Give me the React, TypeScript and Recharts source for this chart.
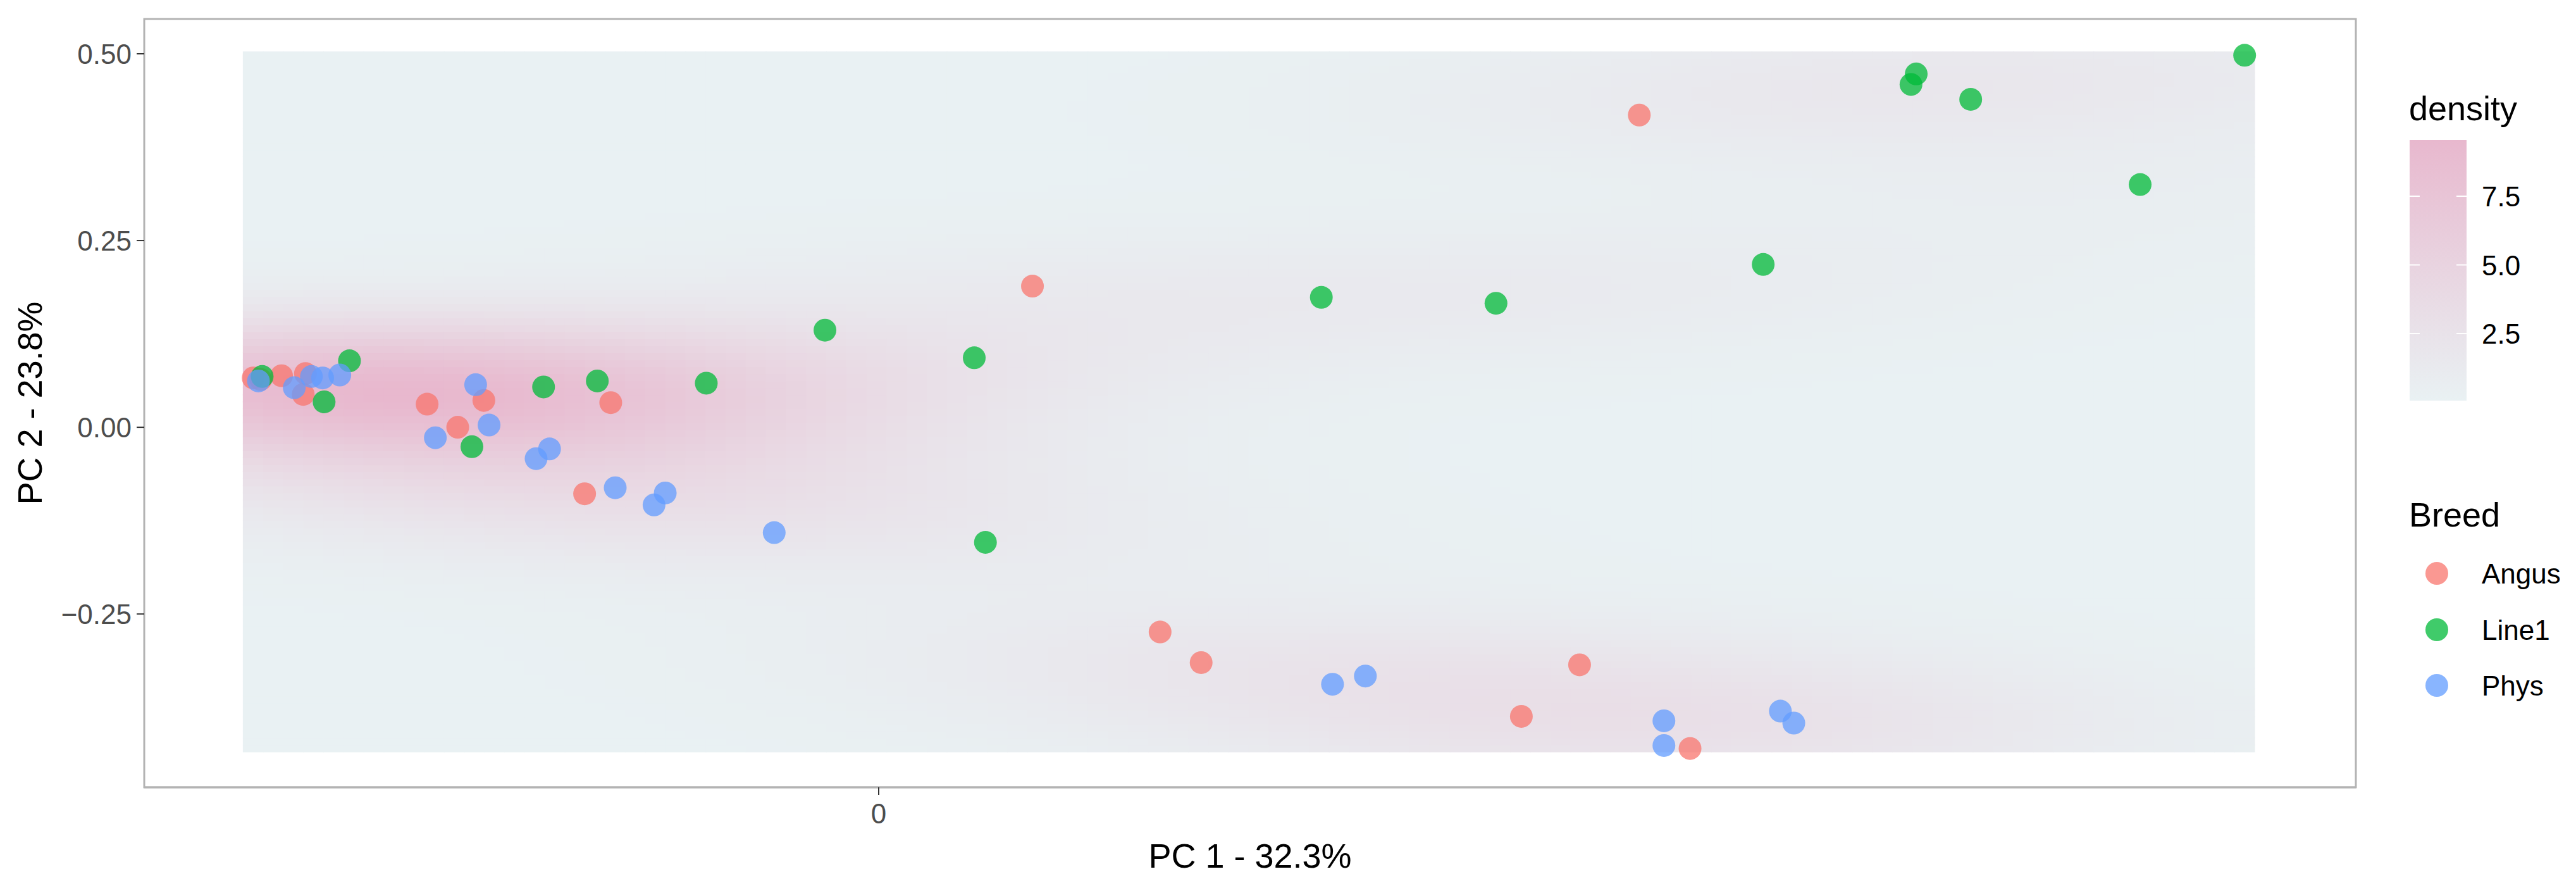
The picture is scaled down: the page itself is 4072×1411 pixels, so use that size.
import { ScatterChart, Scatter, XAxis, YAxis, ReferenceArea } from "recharts"

// PC scores, one pair of arrays per breed
const angusPC1 = [-0.838, -0.828, -0.8, -0.768, -0.771, -0.605, -0.529, -0.564, -0.359, -0.394, 0.206, 0.377, 0.432, 0.861, 0.939, 1.087, 1.019]
const angusPC2 = [0.066, 0.064, 0.069, 0.072, 0.044, 0.031, 0.036, 0.0, 0.033, -0.089, 0.189, -0.274, -0.315, -0.387, -0.318, -0.43, 0.418]

const line1PC1 = [-0.826, -0.709, -0.743, -0.545, -0.449, -0.377, -0.231, -0.072, 0.128, 0.143, 0.593, 0.827, 1.185, 1.69, 1.39, 1.383, 1.463, 1.83]
const line1PC2 = [0.068, 0.089, 0.034, -0.026, 0.054, 0.062, 0.059, 0.13, 0.093, -0.154, 0.174, 0.166, 0.218, 0.325, 0.473, 0.459, 0.439, 0.498]

const physPC1 = [-0.831, -0.783, -0.76, -0.745, -0.722, -0.54, -0.522, -0.594, -0.459, -0.441, -0.353, -0.286, -0.301, -0.14, 0.608, 0.652, 1.052, 1.052, 1.208, 1.226]
const physPC2 = [0.062, 0.053, 0.068, 0.066, 0.07, 0.057, 0.003, -0.014, -0.042, -0.029, -0.081, -0.088, -0.104, -0.141, -0.344, -0.333, -0.393, -0.426, -0.38, -0.396]

const breeds = ["Angus", "Line1", "Phys"]
const breedColors = ["#F8766D", "#00BA38", "#619CFF"]

const xTicks = [0]
const yTicks = [-0.25, 0, 0.25, 0.5]
const densityTicks = [2.5, 5.0, 7.5]
const densityLimits = [0.06, 9.55]

const X_DOMAIN: [number, number] = [-0.984, 1.979]
const Y_DOMAIN: [number, number] = [-0.482, 0.5466]

// layout of the plot panel inside the 4072x1411 picture
const W = 4072
const H = 1411
const PLOT = { left: 228, top: 30, right: 3724, bottom: 1244 }
const Y_AXIS_W = 120
const X_AXIS_H = 80

const LOW = [233, 241, 243]
const HIGH = [232, 184, 206]
const FONT = "'Liberation Sans', Arial, sans-serif"

const zip = (xs: number[], ys: number[]) => xs.map((x, i) => ({ x, y: ys[i] }))
const series = [zip(angusPC1, angusPC2), zip(line1PC1, line1PC2), zip(physPC1, physPC2)]

// --- 2D kernel density (same recipe as MASS::kde2d with bandwidth.nrd) ---
function quantile(sorted: number[], p: number) {
    const h = (sorted.length - 1) * p
    const lo = Math.floor(h)
    const hi = Math.min(lo + 1, sorted.length - 1)
    return sorted[lo] + (h - lo) * (sorted[hi] - sorted[lo])
}

function bandwidthNrd(v: number[]) {
    const n = v.length
    const s = [...v].sort((a, b) => a - b)
    const mean = v.reduce((a, b) => a + b, 0) / n
    const sd = Math.sqrt(v.reduce((a, b) => a + (b - mean) ** 2, 0) / (n - 1))
    const iqr = quantile(s, 0.75) - quantile(s, 0.25)
    return 4 * 1.06 * Math.min(sd, iqr / 1.34) * Math.pow(n, -0.2)
}

const dnorm = (z: number) => Math.exp(-0.5 * z * z) / Math.sqrt(2 * Math.PI)

const allX = [...angusPC1, ...line1PC1, ...physPC1]
const allY = [...angusPC2, ...line1PC2, ...physPC2]
const GRID_N = 100
const hx = bandwidthNrd(allX) / 4
const hy = bandwidthNrd(allY) / 4
const xMin = Math.min(...allX), xMax = Math.max(...allX)
const yMin = Math.min(...allY), yMax = Math.max(...allY)
const stepX = (xMax - xMin) / (GRID_N - 1)
const stepY = (yMax - yMin) / (GRID_N - 1)

const cells: { x: number; y: number; d: number }[] = []
for (let i = 0; i < GRID_N; i++) {
    const gx = xMin + i * stepX
    for (let j = 0; j < GRID_N; j++) {
        const gy = yMin + j * stepY
        let s = 0
        for (let k = 0; k < allX.length; k++) {
            s += dnorm((gx - allX[k]) / hx) * dnorm((gy - allY[k]) / hy)
        }
        cells.push({ x: gx, y: gy, d: s / (allX.length * hx * hy) })
    }
}
const dMin = Math.min(...cells.map((c) => c.d))
const dMax = Math.max(...cells.map((c) => c.d))

function mix(t: number) {
    const c = LOW.map((l, i) => Math.round(l + (HIGH[i] - l) * t))
    return `rgb(${c[0]},${c[1]},${c[2]})`
}

const pxPerX = (PLOT.right - PLOT.left) / (X_DOMAIN[1] - X_DOMAIN[0])
const pxPerY = (PLOT.bottom - PLOT.top) / (Y_DOMAIN[1] - Y_DOMAIN[0])
const cellW = stepX * pxPerX + 1
const cellH = stepY * pxPerY + 1

const RasterCell = (p: any) => (
    <rect
        x={p.cx - cellW / 2}
        y={p.cy - cellH / 2}
        width={cellW}
        height={cellH}
        fill={mix((p.payload.d - dMin) / (dMax - dMin))}
    />
)

const fmtY = (v: number) => (v === 0 ? "0.00" : v.toFixed(2).replace("-", "\u2212"))

// colourbar geometry
const BAR = { x: 3809, top: 221, bottom: 633, w: 90 }
const barY = (v: number) =>
    BAR.bottom - ((v - densityLimits[0]) / (densityLimits[1] - densityLimits[0])) * (BAR.bottom - BAR.top)
const keyY = [906, 995, 1083]

export default function App() {
    return (
        <div style={{ position: "absolute", left: 0, top: 0, width: W, height: H, background: "#fff" }}>
            <ScatterChart
                width={W}
                height={H}
                margin={{
                    top: PLOT.top,
                    right: W - PLOT.right,
                    bottom: H - PLOT.bottom - X_AXIS_H,
                    left: PLOT.left - Y_AXIS_W,
                }}
            >
                <XAxis
                    type="number"
                    dataKey="x"
                    domain={X_DOMAIN}
                    allowDataOverflow
                    ticks={xTicks}
                    height={X_AXIS_H}
                    tickSize={12}
                    tickMargin={14}
                    axisLine={{ stroke: "#b3b3b3", strokeWidth: 3 }}
                    tickLine={{ stroke: "#333333", strokeWidth: 2 }}
                    tick={{ fontSize: 44, fill: "#4d4d4d", fontFamily: FONT }}
                />
                <YAxis
                    type="number"
                    dataKey="y"
                    domain={Y_DOMAIN}
                    allowDataOverflow
                    ticks={yTicks}
                    width={Y_AXIS_W}
                    tickSize={12}
                    tickMargin={8}
                    tickFormatter={fmtY}
                    axisLine={false}
                    tickLine={{ stroke: "#333333", strokeWidth: 2 }}
                    tick={{ fontSize: 44, fill: "#4d4d4d", fontFamily: FONT }}
                />
                <Scatter data={cells} shape={RasterCell} isAnimationActive={false} />
                {series.map((data, i) => (
                    <Scatter
                        key={breeds[i]}
                        name={breeds[i]}
                        data={data}
                        isAnimationActive={false}
                        shape={(p: any) => (
                            <circle cx={p.cx} cy={p.cy} r={18} fill={breedColors[i]} fillOpacity={0.75} />
                        )}
                    />
                ))}
                <ReferenceArea
                    x1={X_DOMAIN[0]}
                    x2={X_DOMAIN[1]}
                    y1={Y_DOMAIN[0]}
                    y2={Y_DOMAIN[1]}
                    fill="none"
                    stroke="#b3b3b3"
                    strokeWidth={3}
                    ifOverflow="visible"
                />
            </ScatterChart>

            {/* titles and legends */}
            <svg width={W} height={H} style={{ position: "absolute", left: 0, top: 0, pointerEvents: "none" }} fontFamily={FONT}>
                <defs>
                    <linearGradient id="dens" x1="0" y1="1" x2="0" y2="0">
                        <stop offset="0%" stopColor={mix(0)} />
                        <stop offset="100%" stopColor={mix(1)} />
                    </linearGradient>
                </defs>
                <text x={(PLOT.left + PLOT.right) / 2} y={1371} fontSize={54} textAnchor="middle" fill="#000">
                    PC 1 - 32.3%
                </text>
                <text
                    transform={`translate(66, ${(PLOT.top + PLOT.bottom) / 2}) rotate(-90)`}
                    fontSize={54}
                    textAnchor="middle"
                    fill="#000"
                >
                    PC 2 - 23.8%
                </text>

                <text x={3808} y={190} fontSize={54} fill="#000">density</text>
                <rect x={BAR.x} y={BAR.top} width={BAR.w} height={BAR.bottom - BAR.top} fill="url(#dens)" />
                {densityTicks.map((v) => (
                    <g key={v}>
                        <line x1={BAR.x} x2={BAR.x + 16} y1={barY(v)} y2={barY(v)} stroke="#fff" strokeWidth={2} />
                        <line x1={BAR.x + BAR.w - 16} x2={BAR.x + BAR.w} y1={barY(v)} y2={barY(v)} stroke="#fff" strokeWidth={2} />
                        <text x={3923} y={barY(v) + 16} fontSize={44} fill="#000">{v.toFixed(1)}</text>
                    </g>
                ))}

                <text x={3808} y={832} fontSize={54} fill="#000">Breed</text>
                {breeds.map((b, i) => (
                    <g key={b}>
                        <circle cx={3852} cy={keyY[i]} r={18} fill={breedColors[i]} fillOpacity={0.75} />
                        <text x={3923} y={keyY[i] + 16} fontSize={44} fill="#000">{b}</text>
                    </g>
                ))}
            </svg>
        </div>
    )
}
